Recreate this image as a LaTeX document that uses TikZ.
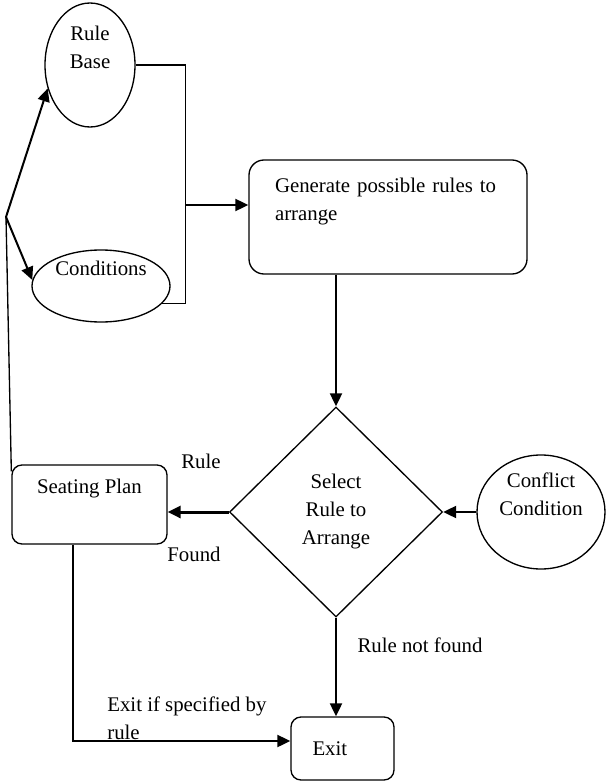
\documentclass[tikz,border=0pt]{standalone}
\usepackage{fontspec}
\setmainfont{Liberation Serif}
\usepackage{tikz}
\usetikzlibrary{shapes.geometric, arrows.meta, positioning, calc}
\tikzstyle{oval} = [ellipse, draw, line width=0.8pt, inner sep=0pt, align=center]
\tikzstyle{block} = [rectangle, draw, line width=0.8pt, rounded corners=6pt, align=center]
\tikzstyle{decision} = [diamond, draw, line width=0.8pt, aspect=1, align=center, minimum width=127.8pt, minimum height=126pt, inner sep=0pt]
\tikzstyle{wire} = [line width=0.8pt]
\tikzstyle{arrow} = [line width=1.2pt, -{Triangle[length=7.8pt,width=7.2pt]}]
\tikzstyle{tag} = [inner sep=0pt, align=left]

\begin{document}
\begin{tikzpicture}[x=0.6pt, y=-0.6pt, font=\fontsize{12.5}{16.8}\selectfont]
\useasboundingbox (0,0) rectangle (607,782);

% Inputs
\node[oval, minimum width=54pt, minimum height=74.4pt] (rb) at (90,65) {Rule\\Base\\\strut};
\node[oval, minimum width=82.8pt, minimum height=43.2pt] (cond) at (101,286) {Conditions\\\strut};
\node[oval, minimum width=76.8pt, minimum height=68.4pt] (conf) at (541,512) {Conflict\\Condition\\\strut};

% Process
\node[block, rounded corners=9pt, minimum width=166.8pt, minimum height=68.4pt, text width=135.6pt, inner xsep=15.6pt, align=left] (gen) at (388,217) {Generate possible rules to\\arrange\\\strut};
\node[decision] (sel) at (336,512) {Select\\Rule to\\Arrange};
\node[block, minimum width=93pt, minimum height=47.4pt] (sp) at (89.5,504.5) {Seating Plan\\\strut};
\node[block, minimum width=61.8pt, minimum height=37.8pt, text width=36pt, align=left] (exit) at (342.5,748.5) {Exit};

% Labels
\node[tag] (rulelbl) at (201,461) {Rule};
\node[tag] (foundlbl) at (194,554) {Found};
\node[tag] (notfound) at (420,645) {Rule not found};
\node[tag, anchor=west] (exitlbl) at (107,718) {Exit if specified by\\rule};

% Feedback fork
\coordinate (fork) at (6,217);
\draw[arrow] (fork) -- (rb.209);
\draw[arrow] (fork) -- (cond.175);
\draw[wire] (fork) -- (sp.157);

% Inputs -> process
\draw[wire] (rb.east) -- ++(50,0) |- (cond.-16);
\coordinate (join) at (185,205);
\draw[arrow] (join) -- (join -| gen.west);
\draw[arrow] (gen.south -| sel.north) -- (sel.north);

% Decision outcomes
\draw[arrow, line width=1.8pt] (sel.west) -- (sel.west -| sp.east);
\draw[arrow] (conf.west) -- (sel.east);
\draw[arrow] (sel.south) -- (sel.south |- exit.north);
\coordinate (bend) at (73,741);
\draw[arrow] (bend |- sp.south) -- (bend) -- (bend -| exit.west);

\end{tikzpicture}
\end{document}
